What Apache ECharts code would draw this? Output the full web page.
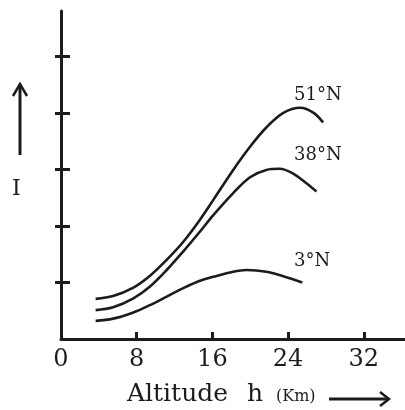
<!DOCTYPE html>
<html><head><meta charset="utf-8">
<script src="https://cdn.jsdelivr.net/npm/echarts@6/dist/echarts.min.js"></script>
<style>html,body{margin:0;padding:0;background:#fff}#c{width:405px;height:410px}</style>
</head><body><div id="c"></div>
<script>
// Data
const seriesNames = ['51°N', '38°N', '3°N'];
const alt51 = [3.66, 5.5, 7.65, 9.41, 11.17, 12.93, 14.69, 16.1, 18.2, 19.98, 21.7, 23.5, 25.3, 26.7, 27.7];
const val51 = [0.71, 0.76, 0.91, 1.12, 1.40, 1.72, 2.11, 2.46, 2.99, 3.40, 3.74, 4.00, 4.09, 4.00, 3.83];
const alt38 = [3.66, 5.5, 7.65, 9.41, 11.17, 12.93, 14.69, 16.1, 18.2, 19.98, 21.7, 23.1, 24.5, 25.9, 27.0];
const val38 = [0.51, 0.56, 0.72, 0.93, 1.22, 1.55, 1.90, 2.19, 2.58, 2.86, 2.99, 3.01, 2.93, 2.76, 2.61];
const alt3 = [3.66, 5.5, 7.65, 9.41, 11.17, 12.93, 14.69, 16.1, 18.2, 19.6, 21.7, 23.5, 25.5];
const val3 = [0.32, 0.36, 0.47, 0.60, 0.75, 0.90, 1.03, 1.10, 1.19, 1.22, 1.19, 1.11, 1.00];
const xTickLabels = [0, 8, 16, 24, 32];
const xTicks = [8, 16, 24, 32];
const yTicks = [1, 2, 3, 4, 5];

const pairs = (xs, ys) => xs.map((x, i) => [x, ys[i]]);
const ink = '#1c1c1c';
const serif = 'DejaVu Serif';

const lineSeries = (name, xs, ys) => ({
  name, type: 'line', smooth: 0.35, symbol: 'none', data: pairs(xs, ys),
  lineStyle: { color: ink, width: 2.6 }, silent: true, animation: false
});

const chart = echarts.init(document.getElementById('c'), null, { renderer: 'canvas' });
chart.setOption({
  animation: false,
  grid: { left: 61, right: 0, top: 11, bottom: 71 },
  xAxis: {
    type: 'value', min: 0, max: 36.36,
    axisLine: { show: true, lineStyle: { color: ink, width: 3 } },
    axisTick: { show: true, inside: true, length: 7, lineStyle: { color: ink, width: 3 }, customValues: xTicks },
    axisLabel: { show: true, customValues: xTickLabels, margin: 9, color: ink, fontFamily: serif, fontSize: 24 },
    splitLine: { show: false }
  },
  yAxis: [{
    type: 'value', min: 0, max: 5.8, position: 'left',
    axisLine: { show: true, lineStyle: { color: ink, width: 3 } },
    axisTick: { show: true, inside: false, length: 6, lineStyle: { color: ink, width: 3 }, customValues: yTicks },
    axisLabel: { show: false }, splitLine: { show: false }
  }, {
    type: 'value', min: 0, max: 5.8, position: 'left',
    axisLine: { show: false },
    axisTick: { show: true, inside: true, length: 9, lineStyle: { color: ink, width: 3 }, customValues: yTicks },
    axisLabel: { show: false }, splitLine: { show: false }
  }],
  series: [
    lineSeries(seriesNames[0], alt51, val51),
    lineSeries(seriesNames[1], alt38, val38),
    lineSeries(seriesNames[2], alt3, val3)
  ],
  graphic: [
    { type: 'text', left: 294, top: 86, style: { text: seriesNames[0], font: '18px "DejaVu Serif"', fill: ink } },
    { type: 'text', left: 294, top: 146, style: { text: seriesNames[1], font: '18px "DejaVu Serif"', fill: ink } },
    { type: 'text', left: 294, top: 252, style: { text: seriesNames[2], font: '18px "DejaVu Serif"', fill: ink } },
    { type: 'text', left: 12, top: 178, style: { text: 'I', font: '22px "DejaVu Serif"', fill: ink } },
    { type: 'text', left: 127, top: 382, style: { text: 'Altitude', font: '25px "DejaVu Serif"', fill: ink } },
    { type: 'text', left: 247, top: 382, style: { text: 'h', font: '25px "DejaVu Serif"', fill: ink } },
    { type: 'text', left: 276, top: 389, style: { text: '(Km)', font: '16px "DejaVu Serif"', fill: ink } },
    { type: 'line', shape: { x1: 20, y1: 155, x2: 20, y2: 85 }, style: { stroke: ink, lineWidth: 3 } },
    { type: 'polyline', shape: { points: [[13, 96], [20, 84], [27, 96]] }, style: { stroke: ink, lineWidth: 2.5, fill: null } },
    { type: 'line', shape: { x1: 329, y1: 399, x2: 388, y2: 399 }, style: { stroke: ink, lineWidth: 3 } },
    { type: 'polyline', shape: { points: [[380, 392], [389, 399], [380, 406]] }, style: { stroke: ink, lineWidth: 2.5, fill: null } }
  ]
});
</script>
</body></html>
